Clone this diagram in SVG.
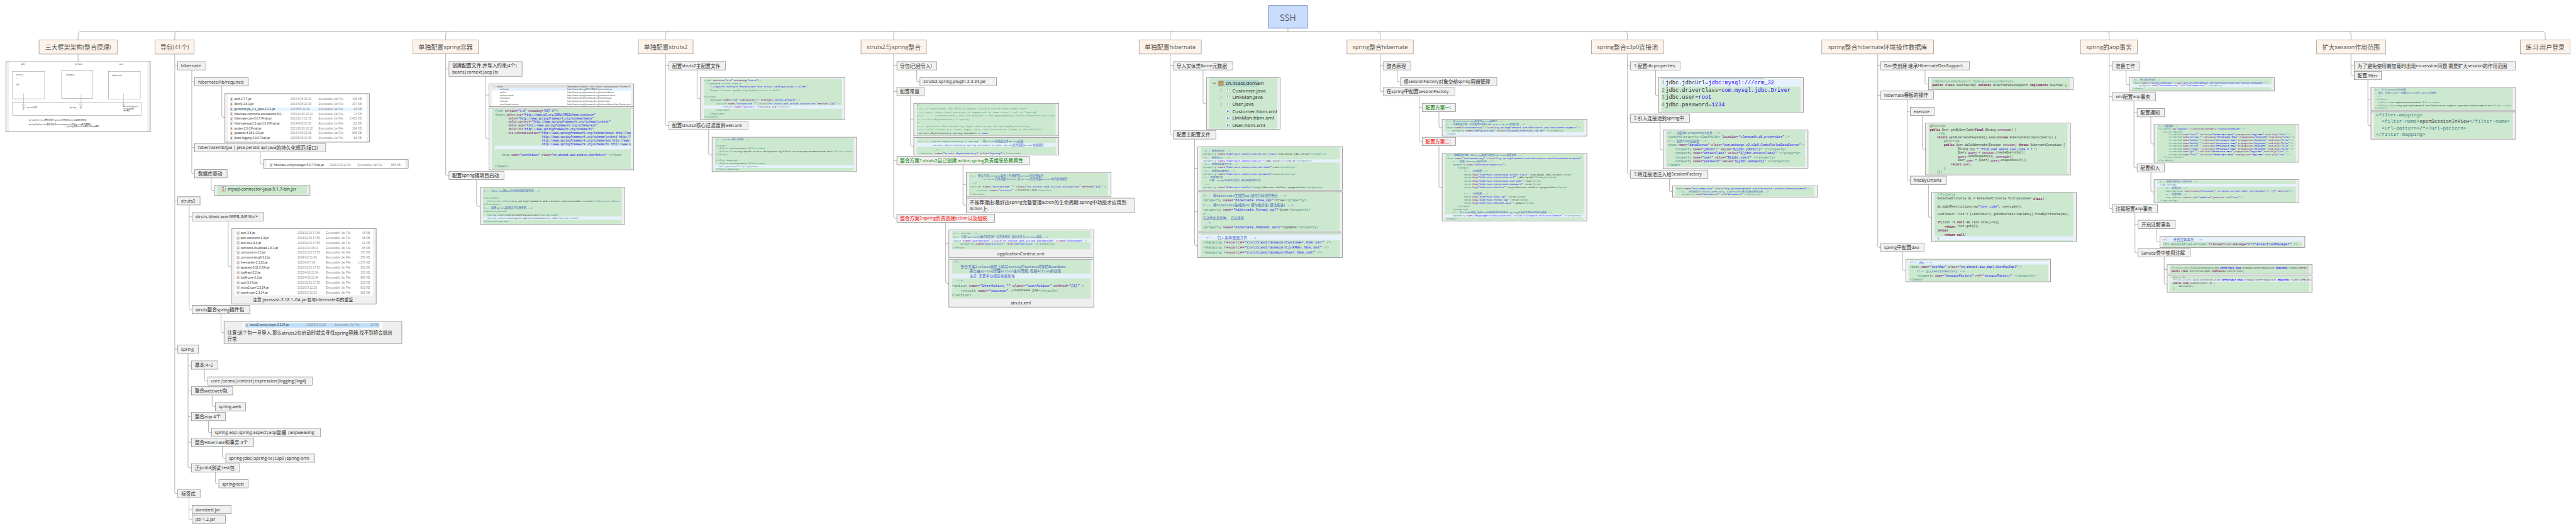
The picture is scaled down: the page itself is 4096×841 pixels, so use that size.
<svg xmlns="http://www.w3.org/2000/svg" xmlns:xlink="http://www.w3.org/1999/xlink" width="4096" height="841" viewBox="0 0 4096 841">
<style>
text{font-family:"Open Sans","Noto Sans CJK SC",sans-serif;dominant-baseline:central}
.n0{fill:#c9dcff;stroke:#3b5a8f;stroke-width:1.2}
.n1{fill:#fef3ea;stroke:#8c8780;stroke-width:1.2}
.n2{fill:#f0f0f0;stroke:#7f7f7f;stroke-width:1.2}
.im{fill:#efefef;stroke:#7f7f7f;stroke-width:1.3}
.gr{fill:#cce8cf}.hl{fill:#e8f2fe}.wh{fill:#fff}
.l0{font-size:25px;fill:#555;text-anchor:middle}
.l1{font-size:16.6px;fill:#555;text-anchor:middle}.l1 .c{font-size:18px}
.l2{font-size:12.6px;fill:#2b2b2b}.l2 .c{font-size:14px}
.red{fill:#f00}.grn{fill:#008000}
.cap{font-size:12.6px;fill:#2b2b2b;text-anchor:middle}
.code text{font-family:"Liberation Mono","Noto Sans CJK SC",monospace;fill:#333;white-space:pre}
.t{fill:#3f7f7f}.a{fill:#7f007f}.v{fill:#2a00ff;font-style:italic}.m{fill:#3f5fbf}.k{fill:#7f0055;font-weight:bold}.g{fill:#5f9f7f}
.fl text{font-family:"Liberation Sans","Noto Sans CJK SC",sans-serif;font-size:8.4px;fill:#8c8c8c}
.fl .f{fill:#333}.fl .r{text-anchor:end}
.dr text{font-family:"Liberation Mono","Noto Sans CJK SC",monospace;font-size:5.3px;fill:#333}
.dr rect{fill:none;stroke:#777;stroke-width:.8}.dr path{fill:none;stroke:#777;stroke-width:.7}
.cn path{fill:none;stroke:#8a8a8a;stroke-width:1.2}
.tr text{font-family:"Open Sans",sans-serif;font-size:14.4px;fill:#222}
</style>
<defs>
<symbol id="jar" viewBox="0 0 10 11"><rect x="1" y=".5" width="8" height="10" fill="#eef0f6" stroke="#9aa0b8" stroke-width=".7"/><rect x="3" y="5" width="4" height="4" fill="#d9822b"/><rect x="3" y="2" width="3" height="2" fill="#5577bb"/></symbol>
<symbol id="doc" viewBox="0 0 10 14"><path d="M.5.5H7L9.5 3V13.5H.5Z" fill="#f6f6f6" stroke="#dedede" stroke-width=".7"/></symbol>
<symbol id="jv" viewBox="0 0 10 12"><path d="M.5.5H7L9.5 3V11.5H.5Z" fill="#fff" stroke="#7a8a52" stroke-width=".8"/><rect x="4" y="3" width="2" height="6" fill="#3b5fa8"/></symbol>
<symbol id="xm" viewBox="0 0 10 12"><path d="M.5.5H7L9.5 3V11.5H.5Z" fill="#fff" stroke="#8fa0c8" stroke-width=".8"/><rect x="3" y="4" width="4" height="5" fill="#3b5fa8"/></symbol>
<clipPath id="c1"><rect x="1417" y="243" width="400.500" height="62"/></clipPath>
<clipPath id="c2"><rect x="1417" y="313" width="400.500" height="175"/></clipPath>
<clipPath id="c3"><rect x="2059.600" y="396" width="400" height="98"/></clipPath>
</defs>
<g transform="scale(.55194)">
<g id="connectors" class="cn">
<path d="M233 91.300H7324M3710.500 81.300V91.300"/>
<path d="M225 115.400V99.300Q225 91.300 233 91.300M503.500 115.400V99.300Q503.500 91.300 511.500 91.300M1284 115.400V99.300Q1284 91.300 1292 91.300M1917 115.400V99.300Q1917 91.300 1925 91.300M2574.600 115.400V99.300Q2574.600 91.300 2582.600 91.300M3371 115.400V99.300Q3371 91.300 3379 91.300M3976 115.400V99.300Q3976 91.300 3968 91.300M4688.300 115.400V99.300Q4688.300 91.300 4680.300 91.300M5409.600 115.400V99.300Q5409.600 91.300 5401.600 91.300M6076.300 115.400V99.300Q6076.300 91.300 6068.300 91.300M6772.900 115.400V99.300Q6772.900 91.300 6764.900 91.300M7332.400 115.400V99.300Q7332.400 91.300 7324.400 91.300"/>
<path d="M225 155.700V177.600"/>
<path d="M503.500 155.500V1417.800Q503.500 1421.800 507.500 1421.800H512.200M503.500 189.500H512M503.500 578.600H512M503.500 1005.600H512.200"/>
<path d="M552.500 201.500V496.500Q552.500 500.500 556.500 500.500H561M552.500 235.600H561M552.500 425.300H561"/>
<path d="M639 247.800V334Q639 338 643 338H647.400M750 437.300V468.600Q750 472.600 754 472.600H759.200M608.400 512.400V544.500Q608.400 548.500 612.400 548.500H617.600"/>
<path d="M545 590.500V887.600Q545 891.600 549 891.600H553.600M545 624.600H553.300"/>
<path d="M657.400 636.800V764Q657.400 768 661.400 768H666.500M636.700 903.800V953.500Q636.700 957.500 640.700 957.500H645.400"/>
<path d="M541.800 1017.800V1343.500Q541.800 1347.500 545.800 1347.500H551.500M541.800 1051.700H551.500M541.800 1125.800H551.500M541.800 1199.800H551.500M541.800 1273.900H551.500"/>
<path d="M589.300 1063.600V1093.500Q589.300 1097.500 593.300 1097.500H598.500M611.200 1137.700V1167.500Q611.200 1171.500 615.200 1171.500H620.400M600.500 1211.800V1241.700Q600.500 1245.700 604.500 1245.700H609.700M640.800 1285.800V1315.700Q640.800 1319.700 644.800 1319.700H650.500M620.900 1359.400V1389.800Q620.900 1393.800 624.900 1393.800H630.600"/>
<path d="M544.400 1433.500V1491.700Q544.400 1495.700 548.400 1495.700H553.600M544.400 1467.600H553.600"/>
<path d="M1284 155.300V501.300Q1284 505.300 1288 505.300H1293.400M1284 198.500H1293.400M1399.600 219.700V396Q1399.600 400 1403.600 400H1408.700M1399.600 273.800H1408.700M1373 517.300V590.400Q1373 594.400 1377 594.400H1383"/>
<path d="M1917 155.300V357.300Q1917 361.300 1921 361.300H1927M1917 189.500H1927M2008.200 201.500V279.700Q2008.200 283.700 2012.200 283.700H2018M2041.400 373.400V442Q2041.400 446 2045.400 446H2051.300"/>
<path d="M2574.600 155.400V624.600Q2574.600 628.600 2578.600 628.600H2583.800M2574.600 189.500H2583.800M2574.600 263.500H2583.800M2574.600 462.600H2583.800M2641 201.500V231.500Q2641 235.500 2645 235.500H2650.300M2623.400 275.600V418Q2623.400 422 2627.400 422H2632.500M2623.400 344H2632.500M2774.300 474.700V587Q2774.300 591 2778.300 591H2783.500M2774.300 531H2783.500M2724.400 640.400V812Q2724.400 816 2728.400 816H2733.600M2724.400 702.300H2733.600"/>
<path d="M3371 155.500V384.600Q3371 388.600 3375 388.600H3380.600M3371 189.500H3380.600M3465.800 201.500V294.800Q3465.800 298.800 3469.800 298.800H3475.500M3441.300 400.600V703.300Q3441.300 707.300 3445.300 707.300H3450.500M3441.300 485H3450.500M3441.300 609H3450.500"/>
<path d="M3976 155.500V259.600Q3976 263.600 3980 263.600H3985.700M3976 189.500H3985.700M4025 201.500V231.500Q4025 235.500 4029 235.500H4034.700M4088.300 275.600V403.300Q4088.300 407.300 4092.300 407.300H4097.400M4088.300 309.500H4097.400M4145.400 321.600V363.600Q4145.400 367.600 4149.400 367.600H4154.600M4145.400 419.400V536.400Q4145.400 540.400 4149.400 540.400H4154.600"/>
<path d="M4688.300 155.400V497.600Q4688.300 501.600 4692.300 501.600H4697.400M4688.300 189.600H4697.400M4688.300 340.300H4697.400M4769.400 201.800V271.400Q4769.400 275.400 4773.400 275.400H4778.600M4782.700 352.500V427.400Q4782.700 431.400 4786.700 431.400H4791.300M4809.200 513.600V547.400Q4809.200 551.400 4813.200 551.400H4818.400"/>
<path d="M5409.600 155.500V708.600Q5409.600 712.600 5413.600 712.600H5418.300M5409.600 189.500H5418.300M5409.600 274.300H5418.300M5545.800 201.500V238Q5545.800 242 5549.800 242H5555.500M5494.300 286.300V515.400Q5494.300 519.400 5498.300 519.400H5503.500M5494.300 320.800H5503.500M5538.200 332.800V426Q5538.200 430 5542.200 430H5547.300M5555.500 531.400V622.500Q5555.500 626.500 5559.500 626.500H5564.700M5481 724.700V775Q5481 779 5485 779H5490.700"/>
<path d="M6076.300 155.500V596.800Q6076.300 600.800 6080.300 600.800H6085.400M6076.300 189.700H6085.400M6076.300 278.600H6085.400M6125.100 201.700V240Q6125.100 244 6129.100 244H6134.700M6147.600 290.600V479.600Q6147.600 483.600 6151.600 483.600H6156.700M6147.600 324.600H6156.700M6196.400 336.700V410.600Q6196.400 414.600 6200.400 414.600H6205.500M6196.400 495.700V548.700Q6196.400 552.700 6200.400 552.700H6205.500M6150.500 612.800V724.400Q6150.500 728.400 6154.500 728.400H6159.600M6150.500 646.300H6159.600M6213.200 658.300V692.500Q6213.200 696.500 6217.200 696.500H6222.700M6234.700 740.400V814.900Q6234.700 818.900 6238.700 818.900H6243.300M6234.700 776.500H6243.300"/>
<path d="M6772.900 155.500V213.300Q6772.900 217.300 6776.900 217.300H6782.300M6772.900 189.500H6782.300M6821.600 229.700V357.700Q6821.600 361.700 6825.600 361.700H6830.400M6821.600 285.700H6830.400"/>
</g>

<g id="n-root"><rect class="n0" x="3654.300" y="16" width="112.400" height="65.300"/><text class="l0" x="3710.500" y="49">SSH</text></g>

<g id="n-arch"><rect class="n1" x="112.500" y="115.400" width="225" height="40.300"/><text class="l1" x="225" y="135.500"><tspan class="c">三大框架架构</tspan>(<tspan class="c">整合原理</tspan>)</text></g>
<g id="img-arch"><rect class="im" x="16.800" y="177.600" width="416.200" height="202"/><rect class="wh" x="25.300" y="178.400" width="399.400" height="200.400"/>
<g class="dr"><text x="61" y="186.600">WEB</text><text x="215" y="186.600">Service</text><text x="344" y="186.600">Dao</text>
<rect x="36" y="205.500" width="92.600" height="79.100"/><rect x="177.500" y="204" width="90.400" height="79.600"/><rect x="312.200" y="206" width="91.800" height="79.600"/><rect x="36" y="294.500" width="371" height="37.800"/>
<path d="M68 268.700V316M63.500 300L68 316L73 300M233.400 269V313.400M229 298L233.400 313.400L238 298M355.900 269V308.400M352 298L355.900 308.400L360 298"/>
<text x="46" y="217">struts2</text><text x="47" y="230">*</text><text x="46" y="243">jsp</text><text x="189" y="217.400">JavaBean</text><text x="323" y="218">Hibernate</text><text x="77.300" y="311">Action对象</text><text x="199.700" y="310">Spring</text><text x="355" y="307.500">SessionFactory</text><text x="355" y="314">session获得</text><text x="355" y="320.500">AOP事务</text>
<text x="82.600" y="347">spring与struts2整合就是将 Action对象交给spring容器负责创建.</text><text x="82.600" y="359">spring与Hibernate整合就是将sessionFactory交给spring来负责维护.</text><text x="186" y="365.700">|-spring负责session维护以及aop事务</text></g></g>

<g id="n-pkg"><rect class="n1" x="447" y="115.400" width="112.400" height="40.300"/><text class="l1" x="503.200" y="135.500"><tspan class="c">导包</tspan>(41<tspan class="c">个</tspan>)</text></g>
<g id="n-hib"><rect class="n2" x="512" y="177.600" width="81" height="23.900"/><text class="l2" x="521.500" y="189.500">hibernate</text></g>
<g id="n-hib-req"><rect class="n2" x="561" y="223.400" width="154.500" height="24.400"/><text class="l2" x="570.500" y="235.600">hibernate/lib/required</text></g>
<g id="img-hib-req" class="fl"><rect class="im" x="647.400" y="269.700" width="417.100" height="139.800"/><rect class="wh" x="655.800" y="272" width="400.200" height="135.500"/><rect x="660" y="309.500" width="384.600" height="9.900" fill="#e5f3ff"/>
<use href="#jar" x="662" y="281" width="10" height="10"/><text class="f" x="675" y="286">antlr-2.7.7.jar</text><text x="836.500" y="286">2014/4/28 20:30</text><text x="917.600" y="286">Executable Jar File</text><text class="r" x="1042" y="286">435 KB</text>
<use href="#jar" x="662" y="295" width="10" height="10"/><text class="f" x="675" y="300">dom4j-1.6.1.jar</text><text x="836.500" y="300">2014/4/28 20:28</text><text x="917.600" y="300">Executable Jar File</text><text class="r" x="1042" y="300">307 KB</text>
<use href="#jar" x="662" y="309" width="10" height="10"/><text class="f" x="675" y="314">geronimo-jta_1.1_spec-1.1.1.jar</text><text x="836.500" y="314">2015/5/5 11:26</text><text x="917.600" y="314">Executable Jar File</text><text class="r" x="1042" y="314">16 KB</text>
<use href="#jar" x="662" y="323" width="10" height="10"/><text class="f" x="675" y="328">hibernate-commons-annotations-5.0....</text><text x="836.500" y="328">2015/11/30 10:22</text><text x="917.600" y="328">Executable Jar File</text><text class="r" x="1042" y="328">74 KB</text>
<use href="#jar" x="662" y="337.300" width="10" height="10"/><text class="f" x="675" y="342.300">hibernate-core-5.0.7.Final.jar</text><text x="836.500" y="342.300">2016/1/13 12:35</text><text x="917.600" y="342.300">Executable Jar File</text><text class="r" x="1042" y="342.300">5,453 KB</text>
<use href="#jar" x="662" y="351.200" width="10" height="10"/><text class="f" x="675" y="356.200">hibernate-jpa-2.1-api-1.0.0.Final.jar</text><text x="836.500" y="356.200">2014/4/28 20:30</text><text x="917.600" y="356.200">Executable Jar File</text><text class="r" x="1042" y="356.200">111 KB</text>
<use href="#jar" x="662" y="365.100" width="10" height="10"/><text class="f" x="675" y="370.100">jandex-2.0.0.Final.jar</text><text x="836.500" y="370.100">2015/11/30 10:22</text><text x="917.600" y="370.100">Executable Jar File</text><text class="r" x="1042" y="370.100">184 KB</text>
<use href="#jar" x="662" y="379" width="10" height="10"/><text class="f" x="675" y="384">javassist-3.18.1-GA.jar</text><text x="836.500" y="384">2014/4/28 20:28</text><text x="917.600" y="384">Executable Jar File</text><text class="r" x="1042" y="384">698 KB</text>
<use href="#jar" x="662" y="393" width="10" height="10"/><text class="f" x="675" y="398">jboss-logging-3.3.0.Final.jar</text><text x="836.500" y="398">2015/5/28 12:35</text><text x="917.600" y="398">Executable Jar File</text><text class="r" x="1042" y="398">66 KB</text></g>
<g id="n-hib-jpa"><rect class="n2" x="561" y="413.400" width="377.200" height="23.900"/><text class="l2" x="570.500" y="425.300">hibernate/lib/jpa | java persist api java<tspan class="c">的持久化规范</tspan>(<tspan class="c">接口</tspan>)</text></g>
<g id="img-hib-jpa" class="fl"><rect class="im" x="759.200" y="459.700" width="416.800" height="24.900"/><rect class="wh" x="767.600" y="461.500" width="399.400" height="22"/><use href="#jar" x="776" y="470" width="10" height="10"/><text class="f" x="789" y="475">hibernate-entitymanager-5.0.7.Final.jar</text><text x="949.700" y="475">2016/1/13 12:39</text><text x="1030" y="475">Executable Jar File</text><text class="r" x="1154" y="475">585 KB</text></g>
<g id="n-hib-db"><rect class="n2" x="561" y="488.600" width="93.300" height="23.800"/><text class="l2" x="570.500" y="500.500"><tspan class="c">数据库驱动</tspan></text></g>
<g id="img-hib-db"><rect class="im" x="617.600" y="534.300" width="275.400" height="28.400"/><rect class="gr" x="626" y="535.800" width="258.800" height="25.500"/><use href="#jar" x="636" y="536" width="15" height="16"/><text x="656.600" y="544.300" font-size="12.500" fill="#2b2b2b">mysql-connector-java-5.1.7-bin.jar</text></g>
<g id="n-st"><rect class="n2" x="512" y="566.700" width="64.300" height="23.800"/><text class="l2" x="521.500" y="578.600">struts2</text></g>
<g id="n-st-blank"><rect class="n2" x="553.300" y="612.400" width="206.700" height="24.400"/><text class="l2" x="562.800" y="624.600">struts-blank.war/WEB-INF/lib/*</text></g>
<g id="img-st-blank" class="fl"><rect class="im" x="666.500" y="658.200" width="417.200" height="217.300"/><rect class="wh" x="675.500" y="660" width="399.500" height="191"/>
<use href="#jar" x="681" y="666" width="10" height="10"/><text class="f" x="693.400" y="671">asm-3.3.jar</text><text x="857" y="671">2013/11/23 17:55</text><text x="939" y="671">Executable Jar File</text><text class="r" x="1066" y="671">43 KB</text>
<use href="#jar" x="681" y="680.600" width="10" height="10"/><text class="f" x="693.400" y="685.600">asm-commons-3.3.jar</text><text x="857" y="685.600">2013/11/23 17:55</text><text x="939" y="685.600">Executable Jar File</text><text class="r" x="1066" y="685.600">38 KB</text>
<use href="#jar" x="681" y="694.500" width="10" height="10"/><text class="f" x="693.400" y="699.500">asm-tree-3.3.jar</text><text x="857" y="699.500">2013/11/23 17:55</text><text x="939" y="699.500">Executable Jar File</text><text class="r" x="1066" y="699.500">21 KB</text>
<use href="#jar" x="681" y="708.900" width="10" height="10"/><text class="f" x="693.400" y="713.900">commons-fileupload-1.3.1.jar</text><text x="857" y="713.900">2014/2/19 16:21</text><text x="939" y="713.900">Executable Jar File</text><text class="r" x="1066" y="713.900">68 KB</text>
<use href="#jar" x="681" y="722.800" width="10" height="10"/><text class="f" x="693.400" y="727.800">commons-io-2.2.jar</text><text x="857" y="727.800">2013/11/23 17:55</text><text x="939" y="727.800">Executable Jar File</text><text class="r" x="1066" y="727.800">170 KB</text>
<use href="#jar" x="681" y="737.300" width="10" height="10"/><text class="f" x="693.400" y="742.300">commons-lang3-3.2.jar</text><text x="857" y="742.300">2014/1/2 21:45</text><text x="939" y="742.300">Executable Jar File</text><text class="r" x="1066" y="742.300">376 KB</text>
<use href="#jar" x="681" y="751.700" width="10" height="10"/><text class="f" x="693.400" y="756.700">freemarker-2.3.22.jar</text><text x="857" y="756.700">2015/4/3 7:09</text><text x="939" y="756.700">Executable Jar File</text><text class="r" x="1066" y="756.700">1,271 KB</text>
<use href="#jar" x="681" y="766" width="10" height="10"/><text class="f" x="693.400" y="771">javassist-3.11.0.GA.jar</text><text x="857" y="771">2013/11/23 17:55</text><text x="939" y="771">Executable Jar File</text><text class="r" x="1066" y="771">600 KB</text>
<use href="#jar" x="681" y="780.300" width="10" height="10"/><text class="f" x="693.400" y="785.300">log4j-api-2.2.jar</text><text x="857" y="785.300">2015/4/19 12:04</text><text x="939" y="785.300">Executable Jar File</text><text class="r" x="1066" y="785.300">131 KB</text>
<use href="#jar" x="681" y="794.500" width="10" height="10"/><text class="f" x="693.400" y="799.500">log4j-core-2.2.jar</text><text x="857" y="799.500">2015/4/19 12:04</text><text x="939" y="799.500">Executable Jar File</text><text class="r" x="1066" y="799.500">808 KB</text>
<use href="#jar" x="681" y="809" width="10" height="10"/><text class="f" x="693.400" y="814">ognl-3.0.6.jar</text><text x="857" y="814">2013/11/23 17:55</text><text x="939" y="814">Executable Jar File</text><text class="r" x="1066" y="814">223 KB</text>
<use href="#jar" x="681" y="823.200" width="10" height="10"/><text class="f" x="693.400" y="828.200">struts2-core-2.3.24.jar</text><text x="857" y="828.200">2015/5/3 12:25</text><text x="939" y="828.200">Executable Jar File</text><text class="r" x="1066" y="828.200">813 KB</text>
<use href="#jar" x="681" y="837.800" width="10" height="10"/><text class="f" x="693.400" y="842.800">xwork-core-2.3.24.jar</text><text x="857" y="842.800">2015/5/3 12:23</text><text x="939" y="842.800">Executable Jar File</text><text class="r" x="1066" y="842.800">661 KB</text>
</g><text class="cap" x="872.500" y="863" style="font-size:12.600px">注意:javassist-3.18.1-GA.jar包与hibernate中的重复</text>
<g id="n-st-plugin"><rect class="n2" x="553.600" y="879.400" width="165.800" height="24.400"/><text class="l2" x="563.100" y="891.600">struts<tspan class="c">整合</tspan>spring<tspan class="c">插件包</tspan></text></g>
<g id="img-st-plugin" class="fl"><rect class="im" x="645.400" y="925.700" width="512.200" height="63.800"/><rect class="wh" x="701" y="928" width="399.500" height="18.600"/><rect x="704.600" y="930" width="389.400" height="13.700" fill="#bfe0fb"/><use href="#jar" x="707" y="931.500" width="10" height="10"/><text class="f" x="720" y="936.500">struts2-spring-plugin-2.3.24.jar</text><text x="883" y="936.500">2015/5/3 12:26</text><text x="964.300" y="936.500">Executable Jar File</text><text class="r" x="1090" y="936.500">22 KB</text></g>
<text x="655" y="959.300" font-size="13.600" fill="#2b2b2b">注意:这个包一旦导入,那么struts2在启动时就会寻找spring容器.找不到将会抛出</text><text x="655" y="977" font-size="13.600" fill="#2b2b2b">异常</text>
<g id="n-sp"><rect class="n2" x="512.200" y="993.400" width="59.200" height="24.400"/><text class="l2" x="521.700" y="1005.600">spring</text></g>
<g id="n-sp-a"><rect class="n2" x="551.500" y="1039.700" width="76.100" height="23.900"/><text class="l2" x="561" y="1051.700"><tspan class="c">基本</tspan>:4+2</text></g>
<g id="n-sp-a1"><rect class="n2" x="598.500" y="1085.500" width="301" height="23.900"/><text class="l2" x="608" y="1097.500">core|beans|context|expression|logging|log4j</text></g>
<g id="n-sp-b"><rect class="n2" x="551.500" y="1113.800" width="118.900" height="23.900"/><text class="l2" x="561" y="1125.800"><tspan class="c">整合</tspan>web:web<tspan class="c">包</tspan></text></g>
<g id="n-sp-b1"><rect class="n2" x="620.400" y="1159.600" width="87.300" height="23.900"/><text class="l2" x="629.900" y="1171.500">spring-web</text></g>
<g id="n-sp-c"><rect class="n2" x="551.500" y="1187.900" width="98" height="23.900"/><text class="l2" x="561" y="1199.800"><tspan class="c">整合</tspan>aop:4<tspan class="c">个</tspan></text></g>
<g id="n-sp-c1"><rect class="n2" x="609.700" y="1233.700" width="313.800" height="23.900"/><text class="l2" x="619.200" y="1245.700">spring-aop|spring-aspect|aop<tspan class="c">联盟</tspan> |aopweaving</text></g>
<g id="n-sp-d"><rect class="n2" x="551.500" y="1262" width="179.100" height="23.800"/><text class="l2" x="561" y="1273.900"><tspan class="c">整合</tspan>Hibernate<tspan class="c">和事务</tspan>:4<tspan class="c">个</tspan></text></g>
<g id="n-sp-d1"><rect class="n2" x="650.500" y="1307.800" width="256.100" height="23.800"/><text class="l2" x="660" y="1319.700">spring-jdbc|spring-tx|c3p0|spring-orm</text></g>
<g id="n-sp-e"><rect class="n2" x="551.500" y="1335.500" width="138.800" height="23.900"/><text class="l2" x="561" y="1347.500"><tspan class="c">正</tspan>junit4<tspan class="c">测试</tspan>:test<tspan class="c">包</tspan></text></g>
<g id="n-sp-e1"><rect class="n2" x="630.600" y="1381.800" width="84.700" height="23.900"/><text class="l2" x="640.100" y="1393.800">spring-test</text></g>
<g id="n-tag"><rect class="n2" x="512.200" y="1409.600" width="64.300" height="23.900"/><text class="l2" x="521.700" y="1421.600"><tspan class="c">标签库</tspan></text></g>
<g id="n-tag-a"><rect class="n2" x="553.600" y="1455.400" width="111.700" height="24.400"/><text class="l2" x="563.100" y="1467.600">standard.jar</text><use href="#doc" x="644" y="1460" width="11" height="14"/></g>
<g id="n-tag-b"><rect class="n2" x="553.600" y="1483.700" width="95.900" height="23.900"/><text class="l2" x="563.100" y="1495.700">jstl-1.2.jar</text><use href="#doc" x="628" y="1488" width="11" height="14"/></g>

<g id="n-spring"><rect class="n1" x="1189.800" y="115.300" width="188.200" height="40"/><text class="l1" x="1284" y="135.300"><tspan class="c">单独配置</tspan>spring<tspan class="c">容器</tspan></text></g>
<g id="n-spring-a"><rect class="n2" x="1293.400" y="177.400" width="210.600" height="42.300"/><text class="l2" x="1302.500" y="189.300"><tspan class="c">创建配置文件,并导入约束</tspan>(4<tspan class="c">个</tspan>)</text><text class="l2" x="1302.500" y="207.400">beans|context|aop|tx</text></g>
<g id="img-spring-xsd"><rect class="im" x="1408.700" y="241.400" width="417.100" height="66"/><rect class="wh" x="1417" y="243.800" width="400.500" height="61.200"/><rect x="1417" y="245" width="400.500" height="8" fill="#dcdcdc"/><rect x="1417" y="253.300" width="400.500" height="8" fill="#e3f1fd"/>
<g clip-path="url(#c1)" font-size="6" fill="#333"><text x="1432" y="249" style="font-size:6px">beans</text><text x="1634" y="249" style="font-size:6px">(description?, (import | alias | bean | name:pacesuri="##other")*, beans)*</text>
<text x="1440" y="257.200" style="font-size:6px">xmlns:xsi</text><text x="1634" y="257.200" style="font-size:6px">http://www.w3.org/2001/XMLSchema-instance</text>
<text x="1440" y="265.900" style="font-size:6px">xmlns</text><text x="1634" y="265.900" style="font-size:6px">http://www.springframework.org/schema/beans</text>
<text x="1440" y="274.200" style="font-size:6px">xmlns:context</text><text x="1634" y="274.200" style="font-size:6px">http://www.springframework.org/schema/context</text>
<text x="1440" y="282.500" style="font-size:6px">xmlns:aop</text><text x="1634" y="282.500" style="font-size:6px">http://www.springframework.org/schema/aop</text>
<text x="1440" y="291.200" style="font-size:6px">xmlns:tx</text><text x="1634" y="291.200" style="font-size:6px">http://www.springframework.org/schema/tx</text>
<text x="1440" y="299.500" style="font-size:6px">xsi:schemaLocation</text><text x="1634" y="299.500" style="font-size:6px">http://www.springframework.org/schema/beans http://www.springframework</text></g></g>
<g id="img-spring-xml" class="code" font-size="8.070"><rect class="im" x="1408.700" y="311.400" width="417.100" height="177.800"/><rect class="gr" x="1417" y="313" width="400.500" height="174.700"/><rect class="hl" x="1425.300" y="419.700" width="392.200" height="10.300"/>
<g clip-path="url(#c2)"><text x="1425.300" y="318.500"><tspan class="t">&lt;?xml </tspan><tspan class="a">version=</tspan><tspan class="v">"1.0" </tspan><tspan class="a">encoding=</tspan><tspan class="v">"UTF-8"</tspan><tspan class="t">?&gt;</tspan></text>
<text x="1425.300" y="329.200"><tspan class="t">&lt;beans </tspan><tspan class="a">xmlns:xsi=</tspan><tspan class="v">"http://www.w3.org/2001/XMLSchema-instance"</tspan></text>
<text x="1464.300" y="339.800"><tspan class="a">xmlns=</tspan><tspan class="v">"http://www.springframework.org/schema/beans"</tspan></text>
<text x="1464.300" y="350.500"><tspan class="a">xmlns:context=</tspan><tspan class="v">"http://www.springframework.org/schema/context"</tspan></text>
<text x="1464.300" y="361.200"><tspan class="a">xmlns:aop=</tspan><tspan class="v">"http://www.springframework.org/schema/aop"</tspan></text>
<text x="1464.300" y="371.900"><tspan class="a">xmlns:tx=</tspan><tspan class="v">"http://www.springframework.org/schema/tx"</tspan></text>
<text x="1464.300" y="382.500"><tspan class="a">xsi:schemaLocation=</tspan><tspan class="v">"http://www.springframework.org/schema/beans http://www.springframework.org</tspan></text>
<text x="1561.300" y="393.200"><tspan class="v">http://www.springframework.org/schema/context http://www.springframework.org</tspan></text>
<text x="1561.300" y="403.900"><tspan class="v">http://www.springframework.org/schema/aop http://www.springframework.org</tspan></text>
<text x="1561.300" y="414.500"><tspan class="v">http://www.springframework.org/schema/tx http://www.springframework.org</tspan></text>
<text x="1444.400" y="446.600"><tspan class="t">&lt;bean </tspan><tspan class="a">name=</tspan><tspan class="v">"userAction" </tspan><tspan class="a">class=</tspan><tspan class="v">"cn.itcast.web.action.UserAction" </tspan><tspan class="t">&gt;&lt;/bean&gt;</tspan></text>
<text x="1425.300" y="479"><tspan class="t">&lt;/beans&gt;</tspan></text></g></g>
<g id="n-spring-b"><rect class="n2" x="1293.400" y="493.200" width="158.400" height="24.100"/><text class="l2" x="1302.500" y="505.300"><tspan class="c">配置</tspan>spring<tspan class="c">随项目启动</tspan></text></g>
<g id="img-spring-web" class="code" font-size="7.470"><rect class="im" x="1383" y="539" width="416.300" height="107.200"/><rect class="gr" x="1391.300" y="540.600" width="399.700" height="104.400"/><rect class="hl" x="1391.300" y="623.600" width="399.700" height="9.500"/>
<text x="1393" y="550.500"><tspan class="m">&lt;!-- 让spring随web启动而创建的监听器 --&gt;</tspan></text>
<text x="1393" y="569.900"><tspan class="t">&lt;listener&gt;</tspan></text>
<text x="1403" y="579.400"><tspan class="t">&lt;listener-class&gt;</tspan>org.springframework.web.context.ContextLoaderListener<tspan class="t">&lt;/listener-class&gt;</tspan></text>
<text x="1393" y="589.300"><tspan class="t">&lt;/listener&gt;</tspan></text>
<text x="1393" y="599.100"><tspan class="m">&lt;!-- 配置spring配置文件位置参数 --&gt;</tspan></text>
<text x="1393" y="609"><tspan class="t">&lt;context-param&gt;</tspan></text>
<text x="1403" y="618.900"><tspan class="t">&lt;param-name&gt;</tspan>contextConfigLocation<tspan class="t">&lt;/param-name&gt;</tspan></text>
<text x="1403" y="628.400"><tspan class="t">&lt;param-value&gt;</tspan>classpath:applicationContext.xml<tspan class="t">&lt;/param-value&gt;</tspan></text>
<text x="1393" y="638.300"><tspan class="t">&lt;/context-param&gt;</tspan></text></g>

<g id="n-struts"><rect class="n1" x="1839" y="115.300" width="157.600" height="40"/><text class="l1" x="1917.800" y="135.300"><tspan class="c">单独配置</tspan>struts2</text></g>
<g id="n-struts-a"><rect class="n2" x="1927" y="177.400" width="163.300" height="24.100"/><text class="l2" x="1936.300" y="189.500"><tspan class="c">配置</tspan>struts2<tspan class="c">主配置文件</tspan></text></g>
<g id="img-struts-main" class="code" font-size="7.200"><rect class="im" x="2018" y="223.200" width="416.400" height="121.800"/><rect class="gr" x="2028" y="226.800" width="398" height="117"/><rect class="hl" x="2028" y="303.500" width="398" height="9.500"/>
<text x="2028" y="231.100"><tspan class="t">&lt;?xml </tspan><tspan class="a">version=</tspan><tspan class="v">"1.0" </tspan><tspan class="a">encoding=</tspan><tspan class="v">"UTF-8"</tspan><tspan class="t">?&gt;</tspan></text>
<text x="2036" y="240.600"><tspan class="t">&lt;!DOCTYPE struts PUBLIC</tspan></text>
<text x="2045" y="250.100"><tspan class="v">"-//Apache Software Foundation//DTD Struts Configuration 2.3//EN"</tspan></text>
<text x="2045" y="260"><tspan class="t">"http://struts.apache.org/dtds/struts-2.3.dtd"&gt;</tspan></text>
<text x="2028" y="279"><tspan class="t">&lt;struts&gt;</tspan></text>
<text x="2045" y="288.900"><tspan class="t">&lt;package </tspan><tspan class="a">name=</tspan><tspan class="v">"crm" </tspan><tspan class="a">namespace=</tspan><tspan class="v">"/" </tspan><tspan class="a">extends=</tspan><tspan class="v">"struts-default" </tspan><tspan class="t">&gt;</tspan></text>
<text x="2063" y="298.300"><tspan class="t">&lt;action </tspan><tspan class="a">name=</tspan><tspan class="v">"UserAction_*" </tspan><tspan class="a">class=</tspan><tspan class="v">"cn.itcast.web.action.UserAction" </tspan><tspan class="a">method=</tspan><tspan class="v">"{1}" </tspan><tspan class="t">&gt;</tspan></text>
<text x="2081" y="308.200"><tspan class="t">&lt;result </tspan><tspan class="a">name=</tspan><tspan class="v">"success" </tspan><tspan class="t">&gt;</tspan>/success.jsp<tspan class="t">&lt;/result&gt;</tspan></text>
<text x="2063" y="317.700"><tspan class="t">&lt;/action&gt;</tspan></text>
<text x="2045" y="327.600"><tspan class="t">&lt;/package&gt;</tspan></text>
<text x="2028" y="337.100"><tspan class="t">&lt;/struts&gt;</tspan></text></g>
<g id="n-struts-b"><rect class="n2" x="1927" y="349.300" width="228" height="24.100"/><text class="l2" x="1936.300" y="361.300"><tspan class="c">配置</tspan>struts2<tspan class="c">核心过滤器到</tspan>web.xml</text></g>
<g id="img-struts-web" class="code" font-size="6.600"><rect class="im" x="2051.300" y="395.200" width="416.200" height="99.200"/><rect class="gr" x="2059.600" y="396.800" width="399.600" height="96.400"/><rect class="hl" x="2059.600" y="475.400" width="399.600" height="8.300"/>
<g clip-path="url(#c3)"><text x="2062" y="402.700"><tspan class="m">&lt;!-- struts2核心过滤器 --&gt;</tspan></text>
<text x="2062" y="420"><tspan class="t">&lt;filter&gt;</tspan></text>
<text x="2070" y="428.400"><tspan class="t">&lt;filter-name&gt;</tspan>struts2<tspan class="t">&lt;/filter-name&gt;</tspan></text>
<text x="2070" y="437"><tspan class="t">&lt;filter-class&gt;</tspan>org.apache.struts2.dispatcher.ng.filter.StrutsPrepareAndExecuteFilter<tspan class="t">&lt;/filter-class&gt;</tspan></text>
<text x="2062" y="445.400"><tspan class="t">&lt;/filter&gt;</tspan></text>
<text x="2062" y="462.400"><tspan class="t">&lt;filter-mapping&gt;</tspan></text>
<text x="2070" y="471"><tspan class="t">&lt;filter-name&gt;</tspan>struts2<tspan class="t">&lt;/filter-name&gt;</tspan></text>
<text x="2070" y="479.800"><tspan class="t">&lt;url-pattern&gt;</tspan>/*<tspan class="t">&lt;/url-pattern&gt;</tspan></text>
<text x="2062" y="488"><tspan class="t">&lt;/filter-mapping&gt;</tspan></text></g></g>

<g id="n-s2s"><rect class="n1" x="2480.400" y="115.400" width="188.300" height="40"/><text class="l1" x="2574.600" y="135.400">struts2<tspan class="c">与</tspan>spring<tspan class="c">整合</tspan></text></g>
<g id="n-s2s-a"><rect class="n2" x="2583.800" y="177.400" width="114.800" height="24.100"/><text class="l2" x="2592.800" y="189.500"><tspan class="c">导包</tspan>(<tspan class="c">已经导入</tspan>)</text></g>
<g id="n-s2s-a1"><rect class="n2" x="2650.300" y="223.500" width="220.500" height="24.100"/><text class="l2" x="2660" y="235.500">struts2-spring-plugin-2.3.24.jar</text><use href="#doc" x="2849" y="228" width="11" height="14"/></g>
<g id="n-s2s-b"><rect class="n2" x="2583.800" y="251.400" width="78.600" height="24.200"/><text class="l2" x="2592.800" y="263.500"><tspan class="c">配置常量</tspan></text></g>
<g id="img-s2s-const" class="code" font-size="7.700"><rect class="im" x="2632.500" y="297.500" width="417.400" height="93.800"/><rect class="gr" x="2641" y="299" width="400.300" height="90.700"/>
<g class="num"><text x="2641.700" y="301.400"><tspan class="g">0</tspan></text><text x="2641.700" y="311.200"><tspan class="g">1</tspan></text><text x="2641.700" y="321.700"><tspan class="g">2</tspan></text><text x="2641.700" y="331.500"><tspan class="g">3</tspan></text><text x="2641.700" y="342"><tspan class="g">4</tspan></text><text x="2641.700" y="351.800"><tspan class="g">5</tspan></text><text x="2641.700" y="362.200"><tspan class="g">6</tspan></text><text x="2641.700" y="372.100"><tspan class="g">7</tspan></text><text x="2641.700" y="382.500"><tspan class="g">8</tspan></text></g>
<text x="2648" y="311.200"><tspan class="g">### if specified, the default object factory can be overridden here</tspan></text>
<text x="2648" y="321.700"><tspan class="g">### Note: short-hand notation is supported in some cases, such as "spring"</tspan></text>
<text x="2648" y="331.500"><tspan class="g">###       Alternatively, you can provide a com.opensymphony.xwork2.ObjectFactory subc</tspan></text>
<text x="2648" y="342"><tspan class="g"># struts.objectFactory = spring</tspan></text>
<text x="2648" y="362.200"><tspan class="g">### specifies the autoWiring logic when using the SpringObjectFactory.</tspan></text>
<text x="2648" y="372.100"><tspan class="g">### valid values are: name, type, auto, and constructor (name is the default)</tspan></text>
<text x="2648" y="382.500">struts.objectFactory.spring.autoWire = <tspan class="v" style="font-style:normal">name</tspan></text></g>
<g id="img-s2s-const2" class="code" font-size="7.700"><rect class="im" x="2632.500" y="395.700" width="417.400" height="51"/><rect class="gr" x="2641" y="397.400" width="400.300" height="47.600"/><rect class="hl" x="2641" y="411.600" width="400.300" height="11"/>
<text x="2647" y="406"><tspan class="m">&lt;!-- #  struts.objectFactory = spring   将action的创建交给spring容器</tspan></text>
<text x="2688" y="417"><tspan class="m">struts.objectFactory.spring.autoWire = name spring负责装配Action依赖属性</tspan></text>
<text x="2688" y="428.600"><tspan class="m">--&gt;</tspan></text>
<text x="2647" y="439.600"><tspan class="t">&lt;constant </tspan><tspan class="a">name=</tspan><tspan class="v">"struts.objectFactory" </tspan><tspan class="a">value=</tspan><tspan class="v">"spring"</tspan><tspan class="t">&gt;&lt;/constant&gt;</tspan></text></g>
<g id="n-s2s-c"><rect class="n2" x="2583.800" y="450.600" width="381.700" height="24.100"/><text class="l2 grn" x="2592.800" y="462.600" style="fill:#008000"><tspan class="c">整合方案</tspan>1:struts2<tspan class="c">自己创建</tspan> action,spring<tspan class="c">负责组装依赖属性</tspan></text></g>
<g id="img-s2s-c1" class="code" font-size="7.980"><rect class="im" x="2783.500" y="496.600" width="417.400" height="70.300"/><rect class="gr" x="2792" y="498.300" width="400" height="65.300"/>
<text x="2793.300" y="504.900"><tspan class="m">&lt;!-- 整合方案1:class属性上仍然配置action的完整类名</tspan></text>
<text x="2832.300" y="515.300"><tspan class="m">struts2仍然创建action,由spring负责组装Action中的依赖属性</tspan></text>
<text x="2799" y="526.300"><tspan class="m">--&gt;</tspan></text>
<text x="2793.300" y="536.700"><tspan class="t">&lt;action </tspan><tspan class="a">name=</tspan><tspan class="v">"UserAction_*" </tspan><tspan class="a">class=</tspan><tspan class="v">"cn.itcast.web.action.UserAction" </tspan><tspan class="a">method=</tspan><tspan class="v">"{1}" </tspan><tspan class="t">&gt;</tspan></text>
<text x="2813.400" y="547.100"><tspan class="t">&lt;result </tspan><tspan class="a">name=</tspan><tspan class="v">"success" </tspan><tspan class="t">&gt;</tspan>/success.jsp<tspan class="t">&lt;/result&gt;</tspan></text>
<text x="2793.300" y="558"><tspan class="t">&lt;/action&gt;</tspan></text></g>
<g id="n-s2s-c2"><rect class="n2" x="2783.500" y="570.700" width="485.100" height="41.700"/><text class="l2" x="2793.300" y="582.800"><tspan class="c">不推荐理由</tspan>:<tspan class="c">最好由</tspan>spring<tspan class="c">完整管理</tspan>action<tspan class="c">的生命周期</tspan>.spring<tspan class="c">中功能才应用到</tspan></text><text class="l2" x="2793.300" y="600.900">Action<tspan class="c">上</tspan>.</text></g>
<g id="n-s2s-d"><rect class="n2" x="2583.800" y="616.800" width="281.800" height="23.600"/><text class="l2" x="2592.800" y="628.600" style="fill:#f00"><tspan class="c">整合方案</tspan>2:spring<tspan class="c">负责创建</tspan>action<tspan class="c">以及组装</tspan>.</text></g>
<g id="img-s2s-d1" class="code" font-size="7.750"><rect class="im" x="2733.600" y="662.300" width="417.400" height="80.100"/><rect class="gr" x="2742.200" y="664.500" width="400.100" height="53.700"/><rect class="hl" x="2742.200" y="687" width="400.100" height="9.900"/>
<text x="2745.600" y="671"><tspan class="m">&lt;!-- action --&gt;</tspan></text>
<text x="2745.600" y="681.500"><tspan class="m">&lt;!-- 注意:Action对象作用范围一定是多例的.这样才符合struts2架构 --&gt;</tspan></text>
<text x="2745.600" y="692"><tspan class="t">&lt;bean </tspan><tspan class="a">name=</tspan><tspan class="v">"userAction" </tspan><tspan class="a">class=</tspan><tspan class="v">"cn.itcast.web.action.UserAction" </tspan><tspan class="a">scope=</tspan><tspan class="v">"prototype" </tspan><tspan class="t">&gt;</tspan></text>
<text x="2764.600" y="701.800"><tspan class="t">&lt;property </tspan><tspan class="a">name=</tspan><tspan class="v">"userService" </tspan><tspan class="a">ref=</tspan><tspan class="v">"userService" </tspan><tspan class="t">&gt;&lt;/property&gt;</tspan></text>
<text x="2745.600" y="712.200"><tspan class="t">&lt;/bean&gt;</tspan></text></g>
<text class="cap" x="2940.800" y="730.300">applicationContext.xml</text>
<g id="img-s2s-d2" class="code" font-size="10.400"><rect class="im" x="2733.600" y="746.800" width="417.400" height="137.700"/><rect class="gr" x="2742.200" y="748.400" width="400.100" height="111.400"/><rect class="hl" x="2742.200" y="788.500" width="400.100" height="13.100"/>
<text x="2748.500" y="753.900"><tspan class="m">&lt;!--</tspan></text>
<text x="2767.500" y="767.600"><tspan class="m">整合方案2:class属性上填写spring中action对象的BeanName</tspan></text>
<text x="2792.700" y="781.300"><tspan class="m">完全由spring管理action生命周期,包括Action的创建</tspan></text>
<text x="2792.700" y="795"><tspan class="m">注意:需要手动组装依赖属性</tspan></text>
<text x="2755.400" y="808.800"><tspan class="m">--&gt;</tspan></text>
<text x="2742.200" y="822.500"><tspan class="t">&lt;action </tspan><tspan class="a">name=</tspan><tspan class="v">"UserAction_*" </tspan><tspan class="a">class=</tspan><tspan class="v">"userAction" </tspan><tspan class="a">method=</tspan><tspan class="v">"{1}" </tspan><tspan class="t">&gt;</tspan></text>
<text x="2767.500" y="836.200"><tspan class="t">&lt;result </tspan><tspan class="a">name=</tspan><tspan class="v">"success" </tspan><tspan class="t">&gt;</tspan>/success.jsp<tspan class="t">&lt;/result&gt;</tspan></text>
<text x="2742.200" y="849.900"><tspan class="t">&lt;/action&gt;</tspan></text></g>
<text class="cap" x="2940.800" y="872.400">struts.xml</text>

<g id="n-hb"><rect class="n1" x="3281.600" y="115.400" width="179.100" height="40.100"/><text class="l1" x="3371" y="135.400"><tspan class="c">单独配置</tspan>hibernate</text></g>
<g id="n-hb-a"><rect class="n2" x="3380.600" y="177.400" width="170.900" height="24.100"/><text class="l2" x="3389.300" y="189.500"><tspan class="c">导入实体类</tspan>&amp;orm<tspan class="c">元数据</tspan></text></g>
<g id="img-hb-tree" class="tr"><rect class="im" x="3475.500" y="223.400" width="212.300" height="149.100"/><rect class="gr" x="3484.200" y="225" width="194.800" height="146"/><rect x="3508.200" y="230" width="117.800" height="20.200" fill="#b4d9cf"/>
<path d="M3494 237.500L3498.500 242.500L3503 237.500" fill="none" stroke="#333" stroke-width="1.500"/><rect x="3511" y="234" width="13" height="12" fill="#c89a5a" stroke="#9a6a2a"/>
<text x="3531.100" y="239.900">cn.itcast.domain</text>
<path d="M3515.500 255L3519.500 260L3515.500 265M3515.500 275L3519.500 279.600L3515.500 284.500M3515.500 295L3519.500 299.700L3515.500 304.500" fill="none" stroke="#888" stroke-width="1.200"/>
<use href="#jv" x="3532" y="254" width="10" height="12"/><text x="3550" y="260">Customer.java</text>
<use href="#jv" x="3532" y="274" width="10" height="12"/><text x="3550" y="279.600">LinkMan.java</text>
<use href="#jv" x="3532" y="294" width="10" height="12"/><text x="3550" y="299.700">User.java</text>
<use href="#xm" x="3532" y="314" width="10" height="12"/><text x="3550" y="319.800">Customer.hbm.xml</text>
<use href="#xm" x="3532" y="334" width="10" height="12"/><text x="3550" y="339.500">LinkMan.hbm.xml</text>
<use href="#xm" x="3532" y="354" width="10" height="12"/><text x="3550" y="360">User.hbm.xml</text></g>
<g id="n-hb-b"><rect class="n2" x="3380.600" y="376.500" width="122" height="24.100"/><text class="l2" x="3389.300" y="388.600"><tspan class="c">配置主配置文件</tspan></text></g>
<g id="img-hb-1" class="code" font-size="7.180"><rect class="im" x="3450.500" y="422.500" width="416.800" height="125.900"/><rect class="gr" x="3459.200" y="423.800" width="400" height="123.200"/><rect class="hl" x="3459.200" y="459.100" width="400" height="8.900"/>
<text x="3469.400" y="435"><tspan class="m">&lt;!-- 数据库驱动 --&gt;</tspan></text>
<text x="3465.300" y="444.400"><tspan class="t">&lt;property </tspan><tspan class="a">name=</tspan><tspan class="v">"hibernate.connection.driver_class"</tspan><tspan class="t">&gt;</tspan>com.mysql.jdbc.Driver<tspan class="t">&lt;/property&gt;</tspan></text>
<text x="3469.400" y="454.200"><tspan class="m">&lt;!-- 数据库url --&gt;</tspan></text>
<text x="3465.300" y="463.600"><tspan class="t">&lt;property </tspan><tspan class="a">name=</tspan><tspan class="v">"hibernate.connection.url"</tspan><tspan class="t">&gt;</tspan>jdbc:mysql:///crm_32<tspan class="t">&lt;/property&gt;</tspan></text>
<text x="3469.400" y="473"><tspan class="m">&lt;!-- 数据库连接用户名 --&gt;</tspan></text>
<text x="3465.300" y="482.300"><tspan class="t">&lt;property </tspan><tspan class="a">name=</tspan><tspan class="v">"hibernate.connection.username"</tspan><tspan class="t">&gt;</tspan>root<tspan class="t">&lt;/property&gt;</tspan></text>
<text x="3469.400" y="492"><tspan class="m">&lt;!-- 数据库连接密码 --&gt;</tspan></text>
<text x="3465.300" y="501.500"><tspan class="t">&lt;property </tspan><tspan class="a">name=</tspan><tspan class="v">"hibernate.connection.password"</tspan><tspan class="t">&gt;</tspan>1234<tspan class="t">&lt;/property&gt;</tspan></text>
<text x="3465.300" y="510.900"><tspan class="m">&lt;!-- 数据库方言</tspan></text>
<text x="3483.200" y="520.300"><tspan class="m">注意: MYSQL在选择方言时,请选择最短的方言.</tspan></text>
<text x="3469.400" y="530.100"><tspan class="m">--&gt;</tspan></text>
<text x="3465.300" y="539.500"><tspan class="t">&lt;property </tspan><tspan class="a">name=</tspan><tspan class="v">"hibernate.dialect"</tspan><tspan class="t">&gt;</tspan>org.hibernate.dialect.MySQLDialect<tspan class="t">&lt;/property&gt;</tspan></text></g>
<g id="img-hb-2" class="code" font-size="9.770"><rect class="im" x="3450.500" y="552.400" width="416.800" height="113.900"/><rect class="gr" x="3459.200" y="554.200" width="400" height="110.700"/>
<text x="3465.300" y="565.800"><tspan class="m">&lt;!-- 将hibernate生成的sql语句打印到控制台 --&gt;</tspan></text>
<text x="3465.300" y="578.800"><tspan class="t">&lt;property </tspan><tspan class="a">name=</tspan><tspan class="v">"hibernate.show_sql"</tspan><tspan class="t">&gt;</tspan>true<tspan class="t">&lt;/property&gt;</tspan></text>
<text x="3465.300" y="591.700"><tspan class="m">&lt;!-- 将hibernate生成的sql语句格式化(语法缩进) --&gt;</tspan></text>
<text x="3465.300" y="604.600"><tspan class="t">&lt;property </tspan><tspan class="a">name=</tspan><tspan class="v">"hibernate.format_sql"</tspan><tspan class="t">&gt;</tspan>true<tspan class="t">&lt;/property&gt;</tspan></text>
<text x="3465.300" y="617.100"><tspan class="m">&lt;!--</tspan></text>
<text x="3465.300" y="630"><tspan class="m">自动导出表结构. 自动建表</tspan></text>
<text x="3471.400" y="643"><tspan class="m">--&gt;</tspan></text>
<text x="3465.300" y="656"><tspan class="t">&lt;property </tspan><tspan class="a">name=</tspan><tspan class="v">"hibernate.hbm2ddl.auto"</tspan><tspan class="t">&gt;</tspan>update<tspan class="t">&lt;/property&gt;</tspan></text></g>
<g id="img-hb-3" class="code" font-size="10.950"><rect class="im" x="3450.500" y="670.300" width="416.800" height="71.400"/><rect class="gr" x="3459.200" y="672" width="400" height="68.400"/><rect class="hl" x="3459.200" y="677" width="400" height="13.800"/>
<text x="3473.500" y="684.100"><tspan class="m">&lt;!-- 引入实体配置文件 --&gt;</tspan></text>
<text x="3467.300" y="698.400"><tspan class="t">&lt;mapping </tspan><tspan class="a">resource=</tspan><tspan class="v">"cn/itcast/domain/Customer.hbm.xml" </tspan><tspan class="t">/&gt;</tspan></text>
<text x="3467.300" y="712.700"><tspan class="t">&lt;mapping </tspan><tspan class="a">resource=</tspan><tspan class="v">"cn/itcast/domain/LinkMan.hbm.xml" </tspan><tspan class="t">/&gt;</tspan></text>
<text x="3467.300" y="727.400"><tspan class="t">&lt;mapping </tspan><tspan class="a">resource=</tspan><tspan class="v">"cn/itcast/domain/User.hbm.xml" </tspan><tspan class="t">/&gt;</tspan></text></g>

<g id="n-sh"><rect class="n1" x="3880.600" y="115.400" width="190.800" height="40.100"/><text class="l1" x="3976" y="135.400">spring<tspan class="c">整合</tspan>hibernate</text></g>
<g id="n-sh-a"><rect class="n2" x="3985.700" y="177.400" width="78.600" height="24.100"/><text class="l2" x="3994.400" y="189.500"><tspan class="c">整合原理</tspan></text></g>
<g id="n-sh-a1"><rect class="n2" x="4034.700" y="223.400" width="277.500" height="24.100"/><text class="l2" x="4043.700" y="235.500"><tspan class="c">将</tspan>sessionFactory<tspan class="c">对象交给</tspan>spring<tspan class="c">容器管理</tspan></text></g>
<g id="n-sh-b"><rect class="n2" x="3985.700" y="251.500" width="205.600" height="24.100"/><text class="l2" x="3994.400" y="263.600"><tspan class="c">在</tspan>spring<tspan class="c">中配置</tspan>sessionFactory</text></g>
<g id="n-sh-b1"><rect class="n2" x="4097.400" y="297.500" width="96" height="24.100"/><text class="l2" x="4106.400" y="309.500" style="fill:#008000"><tspan class="c">配置方案一</tspan>:</text></g>
<g id="img-sh-1" class="code" font-size="6.690"><rect class="im" x="4154.600" y="343.500" width="416.800" height="48.200"/><rect class="gr" x="4162.800" y="344.800" width="400" height="36.600"/><rect class="hl" x="4162.800" y="381.400" width="400" height="9"/>
<text x="4166.300" y="350.200"><tspan class="m">&lt;!-- 将SessionFactory配置到spring容器中 --&gt;</tspan></text>
<text x="4166.300" y="358.700"><tspan class="m">&lt;!-- 加载配置方案1:仍然使用外部的hibernate.cfg.xml配置信息 --&gt;</tspan></text>
<text x="4166.300" y="367.600"><tspan class="t">&lt;bean </tspan><tspan class="a">name=</tspan><tspan class="v">"sessionFactory" </tspan><tspan class="a">class=</tspan><tspan class="v">"org.springframework.orm.hibernate5.LocalSessionFactoryBean" </tspan><tspan class="t">&gt;</tspan></text>
<text x="4182.700" y="376.500"><tspan class="t">&lt;property </tspan><tspan class="a">name=</tspan><tspan class="v">"configLocation" </tspan><tspan class="a">value=</tspan><tspan class="v">"classpath:hibernate.cfg.xml" </tspan><tspan class="t">&gt;&lt;/property&gt;</tspan></text>
<text x="4166.300" y="385.400"><tspan class="t">&lt;/bean&gt;</tspan></text></g>
<g id="n-sh-b2"><rect class="n2" x="4097.400" y="395.300" width="96" height="24.100"/><text class="l2" x="4106.400" y="407.300" style="fill:#f00"><tspan class="c">配置方案二</tspan>:</text></g>
<g id="img-sh-2" class="code" font-size="6.900"><rect class="im" x="4154.600" y="441.700" width="416.800" height="194.600"/><rect class="gr" x="4162.800" y="443" width="400" height="192"/><rect class="hl" x="4162.800" y="617.100" width="400" height="8.900"/>
<text x="4167.300" y="448"><tspan class="m">&lt;!-- 加载配置方案2:在spring配置中放置hibernate配置信息 --&gt;</tspan></text>
<text x="4167.300" y="456.900"><tspan class="t">&lt;bean </tspan><tspan class="a">name=</tspan><tspan class="v">"sessionFactory" </tspan><tspan class="a">class=</tspan><tspan class="v">"org.springframework.orm.hibernate5.LocalSessionFactoryBean"</tspan></text>
<text x="4184.200" y="466.300"><tspan class="m">&lt;!-- 配置hibernate基本信息 --&gt;</tspan></text>
<text x="4184.200" y="475.200"><tspan class="t">&lt;property </tspan><tspan class="a">name=</tspan><tspan class="v">"hibernateProperties"</tspan><tspan class="t">&gt;</tspan></text>
<text x="4201" y="484.600"><tspan class="t">&lt;props&gt;</tspan></text>
<text x="4217.300" y="493.500"><tspan class="m">&lt;!--  必选配置 --&gt;</tspan></text>
<text x="4217.300" y="502.900"><tspan class="t">&lt;prop </tspan><tspan class="a">key=</tspan><tspan class="v">"hibernate.connection.driver_class" </tspan><tspan class="t">&gt;</tspan>com.mysql.jdbc.Driver<tspan class="t">&lt;/prop&gt;</tspan></text>
<text x="4217.300" y="511.800"><tspan class="t">&lt;prop </tspan><tspan class="a">key=</tspan><tspan class="v">"hibernate.connection.url" </tspan><tspan class="t">&gt;</tspan>jdbc:mysql:///crm_32<tspan class="t">&lt;/prop&gt;</tspan></text>
<text x="4217.300" y="521.200"><tspan class="t">&lt;prop </tspan><tspan class="a">key=</tspan><tspan class="v">"hibernate.connection.username" </tspan><tspan class="t">&gt;</tspan>root<tspan class="t">&lt;/prop&gt;</tspan></text>
<text x="4217.300" y="530.100"><tspan class="t">&lt;prop </tspan><tspan class="a">key=</tspan><tspan class="v">"hibernate.connection.password" </tspan><tspan class="t">&gt;</tspan>1234<tspan class="t">&lt;/prop&gt;</tspan></text>
<text x="4217.300" y="539.500"><tspan class="t">&lt;prop </tspan><tspan class="a">key=</tspan><tspan class="v">"hibernate.dialect" </tspan><tspan class="t">&gt;</tspan>org.hibernate.dialect.MySQLDialect<tspan class="t">&lt;/prop&gt;</tspan></text>
<text x="4217.300" y="557.800"><tspan class="m">&lt;!--  可选配置 --&gt;</tspan></text>
<text x="4217.300" y="566.700"><tspan class="t">&lt;prop </tspan><tspan class="a">key=</tspan><tspan class="v">"hibernate.show_sql" </tspan><tspan class="t">&gt;</tspan>true<tspan class="t">&lt;/prop&gt;</tspan></text>
<text x="4217.300" y="576.100"><tspan class="t">&lt;prop </tspan><tspan class="a">key=</tspan><tspan class="v">"hibernate.format_sql" </tspan><tspan class="t">&gt;</tspan>true<tspan class="t">&lt;/prop&gt;</tspan></text>
<text x="4217.300" y="585.500"><tspan class="t">&lt;prop </tspan><tspan class="a">key=</tspan><tspan class="v">"hibernate.hbm2ddl.auto" </tspan><tspan class="t">&gt;</tspan>update<tspan class="t">&lt;/prop&gt;</tspan></text>
<text x="4201" y="594.400"><tspan class="t">&lt;/props&gt;</tspan></text>
<text x="4184.200" y="603.800"><tspan class="t">&lt;/property&gt;</tspan></text>
<text x="4184.200" y="612.700"><tspan class="m">&lt;!-- 引入orm元数据,指定orm元数据所在的包路径,spring会自动读取包中的所有配置 --&gt;</tspan></text>
<text x="4184.200" y="621.600"><tspan class="t">&lt;property </tspan><tspan class="a">name=</tspan><tspan class="v">"mappingDirectoryLocations" </tspan><tspan class="a">value=</tspan><tspan class="v">"classpath:cn/itcast/domain" </tspan><tspan class="t">&gt;&lt;/property&gt;</tspan></text>
<text x="4167.300" y="631"><tspan class="t">&lt;/bean&gt;</tspan></text></g>

<g id="n-c3"><rect class="n1" x="4584.700" y="115.400" width="207.600" height="40"/><text class="l1" x="4688.500" y="135.400">spring<tspan class="c">整合</tspan>c3p0<tspan class="c">连接池</tspan></text></g>
<g id="n-c3-a"><rect class="n2" x="4697.400" y="177.500" width="142.900" height="24.300"/><text class="l2" x="4707" y="189.600">1.<tspan class="c">配置</tspan>db.properties</text></g>
<g id="img-c3-1" class="code" font-size="15.800"><rect class="im" x="4778.600" y="223.600" width="416.800" height="100.700"/><rect class="wh" x="4787.200" y="225" width="400" height="4"/><rect x="4787.200" y="225" width="296" height="2" fill="#b4b8cc"/><rect class="gr" x="4787.200" y="228.600" width="400" height="94.600"/><rect class="hl" x="4787.200" y="229" width="400" height="20.300"/>
<text x="4786.200" y="239.300"><tspan class="g">1</tspan></text><text x="4798" y="239.300">jdbc.jdbcUrl=<tspan fill="#2a00ff">jdbc:mysql:///crm_32</tspan></text>
<text x="4786.200" y="260"><tspan class="g">2</tspan></text><text x="4798" y="260">jdbc.driverClass=<tspan fill="#2a00ff">com.mysql.jdbc.Driver</tspan></text>
<text x="4786.200" y="281"><tspan class="g">3</tspan></text><text x="4798" y="281">jdbc.user=<tspan fill="#2a00ff">root</tspan></text>
<text x="4786.200" y="301.800"><tspan class="g">4</tspan></text><text x="4798" y="301.800">jdbc.password=<tspan fill="#2a00ff">1234</tspan></text></g>
<g id="n-c3-b"><rect class="n2" x="4697.400" y="328.200" width="169.900" height="24.300"/><text class="l2" x="4707" y="340.300">2.<tspan class="c">引入连接池到</tspan>spring<tspan class="c">中</tspan></text></g>
<g id="img-c3-2" class="code" font-size="8.770"><rect class="im" x="4791.300" y="374.600" width="417.400" height="110.800"/><rect class="gr" x="4800" y="376" width="400" height="104.700"/>
<text x="4804" y="382.500"><tspan class="m">&lt;!-- 读取db.properties文件 --&gt;</tspan></text>
<text x="4804" y="394"><tspan class="t">&lt;context:property-placeholder </tspan><tspan class="a">location=</tspan><tspan class="v">"classpath:db.properties" </tspan><tspan class="t">/&gt;</tspan></text>
<text x="4804" y="405.700"><tspan class="m">&lt;!-- 配置c3p0连接池 --&gt;</tspan></text>
<text x="4804" y="417.100"><tspan class="t">&lt;bean </tspan><tspan class="a">name=</tspan><tspan class="v">"dataSource" </tspan><tspan class="a">class=</tspan><tspan class="v">"com.mchange.v2.c3p0.ComboPooledDataSource" </tspan><tspan class="t">&gt;</tspan></text>
<text x="4825" y="429"><tspan class="t">&lt;property </tspan><tspan class="a">name=</tspan><tspan class="v">"jdbcUrl" </tspan><tspan class="a">value=</tspan><tspan class="v">"${jdbc.jdbcUrl}" </tspan><tspan class="t">&gt;&lt;/property&gt;</tspan></text>
<text x="4825" y="440.400"><tspan class="t">&lt;property </tspan><tspan class="a">name=</tspan><tspan class="v">"driverClass" </tspan><tspan class="a">value=</tspan><tspan class="v">"${jdbc.driverClass}" </tspan><tspan class="t">&gt;&lt;/property&gt;</tspan></text>
<text x="4825" y="452.100"><tspan class="t">&lt;property </tspan><tspan class="a">name=</tspan><tspan class="v">"user" </tspan><tspan class="a">value=</tspan><tspan class="v">"${jdbc.user}" </tspan><tspan class="t">&gt;&lt;/property&gt;</tspan></text>
<text x="4825" y="463.600"><tspan class="t">&lt;property </tspan><tspan class="a">name=</tspan><tspan class="v">"password" </tspan><tspan class="a">value=</tspan><tspan class="v">"${jdbc.password}" </tspan><tspan class="t">&gt;&lt;/property&gt;</tspan></text>
<text x="4804" y="475"><tspan class="t">&lt;/bean&gt;</tspan></text></g>
<g id="n-c3-c"><rect class="n2" x="4697.400" y="489.600" width="223" height="24"/><text class="l2" x="4707" y="501.600">3.<tspan class="c">将连接池注入给</tspan>SessionFactory</text></g>
<g id="img-c3-3" class="code" font-size="6.700"><rect class="im" x="4818.400" y="535.700" width="417.300" height="31.800"/><rect class="gr" x="4827" y="537" width="400" height="29.300"/>
<text x="4828" y="543.600"><tspan class="t">&lt;bean </tspan><tspan class="a">name=</tspan><tspan class="v">"sessionFactory" </tspan><tspan class="a">class=</tspan><tspan class="v">"org.springframework.orm.hibernate5.LocalSessionFactoryBean" </tspan><tspan class="t">&gt;</tspan></text>
<text x="4844.400" y="552.100"><tspan class="m">&lt;!-- 将连接池注入到sessionFactory, hibernate会通过连接池获得连接 --&gt;</tspan></text>
<text x="4844.400" y="560.700"><tspan class="t">&lt;property </tspan><tspan class="a">name=</tspan><tspan class="v">"dataSource" </tspan><tspan class="a">ref=</tspan><tspan class="v">"dataSource" </tspan><tspan class="t">&gt;&lt;/property&gt;</tspan></text></g>

<g id="n-db"><rect class="n1" x="5248.400" y="115.400" width="321.900" height="40.100"/><text class="l1" x="5409.400" y="135.400">spring<tspan class="c">整合</tspan>hibernate<tspan class="c">环境操作数据库</tspan></text></g>
<g id="n-db-a"><rect class="n2" x="5418.300" y="177.400" width="255.100" height="24.100"/><text class="l2" x="5428" y="189.500">Dao<tspan class="c">类创建</tspan>:<tspan class="c">继承</tspan>HibernateDaoSupport</text></g>
<g id="img-db-a" class="code" font-size="8.850"><rect class="im" x="5555.500" y="223.400" width="416.900" height="35.300"/><rect class="gr" x="5564" y="225" width="400" height="32.300"/>
<text x="5566.700" y="233.700"><tspan class="g">//HibernateDaoSupport 为dao注入sessionFactory</tspan></text>
<text x="5566.700" y="245.300"><tspan class="k">public class </tspan>UserDaoImpl <tspan class="k">extends </tspan>HibernateDaoSupport <tspan class="k">implements </tspan>UserDao {</text></g>
<g id="n-db-b"><rect class="n2" x="5418.300" y="262.200" width="152" height="24.100"/><text class="l2" x="5428" y="274.300">hibernate<tspan class="c">模板的操作</tspan></text></g>
<g id="n-db-b1"><rect class="n2" x="5503.500" y="308.700" width="68.800" height="24.100"/><text class="l2" x="5513" y="320.800">execute</text></g>
<g id="img-db-b1" class="code" font-size="8.330"><rect class="im" x="5547.300" y="354.600" width="417.400" height="149.200"/><rect class="gr" x="5556" y="356.400" width="400" height="146"/>
<text x="5560" y="362.700" fill="#777" style="fill:#777">@Override</text>
<text x="5560" y="373.800"><tspan class="k">public </tspan>User getByUserCode(<tspan class="k">final </tspan>String <tspan class="a">usercode</tspan>) {</text>
<text x="5580.500" y="384.600"><tspan class="g">//HQL</tspan></text>
<text x="5580.500" y="395.700"><tspan class="k">return </tspan>getHibernateTemplate().execute(<tspan class="k">new </tspan>HibernateCallback&lt;User&gt;() {</text>
<text x="5600.400" y="406.900" style="fill:#777">@Override</text>
<text x="5600.400" y="417.600"><tspan class="k">public </tspan>User doInHibernate(Session <tspan class="a">session</tspan>) <tspan class="k">throws </tspan>HibernateException {</text>
<text x="5640.200" y="428.800">String <tspan class="a">hql</tspan> = <tspan fill="#2a00ff">"from User where user_code = ? "</tspan>;</text>
<text x="5640.200" y="439.900">Query <tspan class="a">query</tspan> = <tspan class="a">session</tspan>.createQuery(hql);</text>
<text x="5640.200" y="450.600"><tspan class="a">query</tspan>.setParameter(0, <tspan class="a">usercode</tspan>);</text>
<text x="5640.200" y="461.800">User <tspan class="a">user</tspan> = (User) <tspan class="a">query</tspan>.uniqueResult();</text>
<text x="5620.300" y="473"><tspan class="k">return </tspan><tspan class="a">user</tspan>;</text>
<text x="5600.400" y="484">}</text>
<text x="5580.500" y="494.800">});</text></g>
<g id="n-db-b2"><rect class="n2" x="5503.500" y="507.300" width="104.100" height="24.100"/><text class="l2" x="5513" y="519.400">findByCriteria</text></g>
<g id="img-db-b2" class="code" font-size="8.720"><rect class="im" x="5564.700" y="553.800" width="416.800" height="142.800"/><rect class="gr" x="5572.900" y="555" width="400" height="140"/><rect class="hl" x="5572.900" y="681" width="400" height="11.200"/>
<text x="5581" y="560.400"><tspan class="g">//Criteria</tspan></text>
<text x="5581" y="572">DetachedCriteria dc = DetachedCriteria.forClass(User.<tspan class="k">class</tspan>);</text>
<text x="5581" y="594.800">dc.add(Restrictions.eq(<tspan fill="#2a00ff">"user_code"</tspan>, usercode));</text>
<text x="5581" y="617.600">List&lt;User&gt; list = (List&lt;User&gt;) getHibernateTemplate().findByCriteria(dc);</text>
<text x="5581" y="640.400"><tspan class="k">if</tspan>(list != <tspan class="k">null</tspan> &amp;&amp; list.size()&gt;0){</text>
<text x="5602" y="652"><tspan class="k">return </tspan>list.get(0);</text>
<text x="5581" y="663.600">}<tspan class="k">else</tspan>{</text>
<text x="5602" y="675.200"><tspan class="k">return null</tspan>;</text>
<text x="5581" y="687.200">}</text></g>
<g id="n-db-c"><rect class="n2" x="5418.300" y="700.600" width="125" height="24.100"/><text class="l2" x="5428" y="712.700">spring<tspan class="c">中配置</tspan>dao</text></g>
<g id="img-db-c" class="code" font-size="8.800"><rect class="im" x="5490.700" y="746.600" width="416.900" height="65"/><rect class="gr" x="5499.300" y="748" width="400" height="62.200"/><rect class="hl" x="5499.300" y="751" width="400" height="11"/>
<text x="5502" y="756.400"><tspan class="m">&lt;!-- dao --&gt;</tspan></text>
<text x="5502" y="768.800"><tspan class="t">&lt;bean </tspan><tspan class="a">name=</tspan><tspan class="v">"userDao" </tspan><tspan class="a">class=</tspan><tspan class="v">"cn.itcast.dao.impl.UserDaoImpl" </tspan><tspan class="t">&gt;</tspan></text>
<text x="5522" y="781"><tspan class="m">&lt;!-- 注入sessionFactory --&gt;</tspan></text>
<text x="5522" y="793"><tspan class="t">&lt;property </tspan><tspan class="a">name=</tspan><tspan class="v">"sessionFactory" </tspan><tspan class="a">ref=</tspan><tspan class="v">"sessionFactory" </tspan><tspan class="t">&gt;&lt;/property&gt;</tspan></text>
<text x="5502" y="805"><tspan class="t">&lt;/bean&gt;</tspan></text></g>

<g id="n-tx"><rect class="n1" x="5994.500" y="115.400" width="163.200" height="40.100"/><text class="l1" x="6076" y="135.400">spring<tspan class="c">的</tspan>aop<tspan class="c">事务</tspan></text></g>
<g id="n-tx-a"><rect class="n2" x="6085.400" y="177.700" width="79" height="24"/><text class="l2" x="6094.800" y="189.700"><tspan class="c">准备工作</tspan></text></g>
<g id="img-tx-a" class="code" font-size="6.200"><rect class="im" x="6134.700" y="223.700" width="417.200" height="38.700"/><rect class="gr" x="6142.800" y="225.300" width="400.500" height="35.500"/><rect class="hl" x="6142.800" y="243" width="400.500" height="8.400"/>
<text x="6147" y="231"><tspan class="m">&lt;!-- 核心事务管理器 --&gt;</tspan></text>
<text x="6147" y="239.400"><tspan class="t">&lt;bean </tspan><tspan class="a">name=</tspan><tspan class="v">"transactionManager" </tspan><tspan class="a">class=</tspan><tspan class="v">"org.springframework.orm.hibernate5.HibernateTransactionManager" </tspan><tspan class="t">&gt;</tspan></text>
<text x="6162" y="247.200"><tspan class="t">&lt;property </tspan><tspan class="a">name=</tspan><tspan class="v">"sessionFactory" </tspan><tspan class="a">ref=</tspan><tspan class="v">"sessionFactory" </tspan><tspan class="t">&gt;&lt;/property&gt;</tspan></text>
<text x="6147" y="255.600"><tspan class="t">&lt;/bean&gt;</tspan></text></g>
<g id="n-tx-b"><rect class="n2" x="6085.400" y="266.600" width="124.400" height="24"/><text class="l2" x="6094.800" y="278.600">xml<tspan class="c">配置</tspan>aop<tspan class="c">事务</tspan></text></g>
<g id="n-tx-b1"><rect class="n2" x="6156.700" y="312.600" width="78.900" height="24.100"/><text class="l2" x="6166" y="324.600"><tspan class="c">配置通知</tspan></text></g>
<g id="img-tx-b1" class="code" font-size="6.180"><rect class="im" x="6205.500" y="358.600" width="417.200" height="108.800"/><rect class="gr" x="6214.100" y="360" width="400" height="106"/>
<text x="6217.500" y="363.300"><tspan class="m">&lt;!-- 配置通知 --&gt;</tspan></text>
<text x="6217.500" y="371.200"><tspan class="t">&lt;tx:advice </tspan><tspan class="a">id=</tspan><tspan class="v">"txAdvice" </tspan><tspan class="a">transaction-manager=</tspan><tspan class="v">"transactionManager" </tspan><tspan class="t">&gt;</tspan></text>
<text x="6232.800" y="379.600"><tspan class="t">&lt;tx:attributes&gt;</tspan></text>
<text x="6247.600" y="387.900"><tspan class="t">&lt;tx:method </tspan><tspan class="a">name=</tspan><tspan class="v">"save*" </tspan><tspan class="a">isolation=</tspan><tspan class="v">"REPEATABLE_READ" </tspan><tspan class="a">propagation=</tspan><tspan class="v">"REQUIRED" </tspan><tspan class="a">read-only=</tspan><tspan class="v">"false" </tspan><tspan class="t">/&gt;</tspan></text>
<text x="6247.600" y="395.800"><tspan class="t">&lt;tx:method </tspan><tspan class="a">name=</tspan><tspan class="v">"persist*" </tspan><tspan class="a">isolation=</tspan><tspan class="v">"REPEATABLE_READ" </tspan><tspan class="a">propagation=</tspan><tspan class="v">"REQUIRED" </tspan><tspan class="a">read-only=</tspan><tspan class="v">"false" </tspan><tspan class="t">/&gt;</tspan></text>
<text x="6247.600" y="404.100"><tspan class="t">&lt;tx:method </tspan><tspan class="a">name=</tspan><tspan class="v">"update*" </tspan><tspan class="a">isolation=</tspan><tspan class="v">"REPEATABLE_READ" </tspan><tspan class="a">propagation=</tspan><tspan class="v">"REQUIRED" </tspan><tspan class="a">read-only=</tspan><tspan class="v">"false" </tspan><tspan class="t">/&gt;</tspan></text>
<text x="6247.600" y="412.500"><tspan class="t">&lt;tx:method </tspan><tspan class="a">name=</tspan><tspan class="v">"modify*" </tspan><tspan class="a">isolation=</tspan><tspan class="v">"REPEATABLE_READ" </tspan><tspan class="a">propagation=</tspan><tspan class="v">"REQUIRED" </tspan><tspan class="a">read-only=</tspan><tspan class="v">"false" </tspan><tspan class="t">/&gt;</tspan></text>
<text x="6247.600" y="420.400"><tspan class="t">&lt;tx:method </tspan><tspan class="a">name=</tspan><tspan class="v">"delete*" </tspan><tspan class="a">isolation=</tspan><tspan class="v">"REPEATABLE_READ" </tspan><tspan class="a">propagation=</tspan><tspan class="v">"REQUIRED" </tspan><tspan class="a">read-only=</tspan><tspan class="v">"false" </tspan><tspan class="t">/&gt;</tspan></text>
<text x="6247.600" y="428.700"><tspan class="t">&lt;tx:method </tspan><tspan class="a">name=</tspan><tspan class="v">"remove*" </tspan><tspan class="a">isolation=</tspan><tspan class="v">"REPEATABLE_READ" </tspan><tspan class="a">propagation=</tspan><tspan class="v">"REQUIRED" </tspan><tspan class="a">read-only=</tspan><tspan class="v">"false" </tspan><tspan class="t">/&gt;</tspan></text>
<text x="6247.600" y="436.600"><tspan class="t">&lt;tx:method </tspan><tspan class="a">name=</tspan><tspan class="v">"get*" </tspan><tspan class="a">isolation=</tspan><tspan class="v">"REPEATABLE_READ" </tspan><tspan class="a">propagation=</tspan><tspan class="v">"REQUIRED" </tspan><tspan class="a">read-only=</tspan><tspan class="v">"true" </tspan><tspan class="t">/&gt;</tspan></text>
<text x="6247.600" y="444.900"><tspan class="t">&lt;tx:method </tspan><tspan class="a">name=</tspan><tspan class="v">"find*" </tspan><tspan class="a">isolation=</tspan><tspan class="v">"REPEATABLE_READ" </tspan><tspan class="a">propagation=</tspan><tspan class="v">"REQUIRED" </tspan><tspan class="a">read-only=</tspan><tspan class="v">"true" </tspan><tspan class="t">/&gt;</tspan></text>
<text x="6232.800" y="453.300"><tspan class="t">&lt;/tx:attributes&gt;</tspan></text>
<text x="6217.500" y="461.200"><tspan class="t">&lt;/tx:advice&gt;</tspan></text></g>
<g id="n-tx-b2"><rect class="n2" x="6156.700" y="471.600" width="78.900" height="24.100"/><text class="l2" x="6166" y="483.600"><tspan class="c">配置织入</tspan></text></g>
<g id="img-tx-b2" class="code" font-size="6.600"><rect class="im" x="6205.500" y="517.600" width="417.200" height="67"/><rect class="gr" x="6214.100" y="519" width="400" height="64.200"/><rect class="hl" x="6214.100" y="529.700" width="400" height="7.800"/>
<text x="6222.300" y="524.400"><tspan class="m">&lt;!-- 配置将通知织入目标对象 --&gt;</tspan></text>
<text x="6222.300" y="533.300"><tspan class="t">&lt;aop:config&gt;</tspan></text>
<text x="6238" y="542.200"><tspan class="m">&lt;!-- 配置切点 --&gt;</tspan></text>
<text x="6238" y="551.100"><tspan class="t">&lt;aop:pointcut </tspan><tspan class="a">expression=</tspan><tspan class="v">"execution(* cn.itcast.service.impl.*ServiceImpl.*(..))" </tspan><tspan class="a">id=</tspan><tspan class="v">"txPc"</tspan><tspan class="t">/&gt;</tspan></text>
<text x="6238" y="559.500"><tspan class="m">&lt;!-- 配置切面 --&gt;</tspan></text>
<text x="6238" y="568.400"><tspan class="t">&lt;aop:advisor </tspan><tspan class="a">advice-ref=</tspan><tspan class="v">"txAdvice" </tspan><tspan class="a">pointcut-ref=</tspan><tspan class="v">"txPc" </tspan><tspan class="t">/&gt;</tspan></text>
<text x="6222.300" y="577.300"><tspan class="t">&lt;/aop:config&gt;</tspan></text></g>
<g id="n-tx-c"><rect class="n2" x="6085.400" y="588.800" width="130.200" height="24"/><text class="l2" x="6094.800" y="600.800"><tspan class="c">注解配置</tspan>aop<tspan class="c">事务</tspan></text></g>
<g id="n-tx-c1"><rect class="n2" x="6159.600" y="634.300" width="107.100" height="24"/><text class="l2" x="6169" y="646.300"><tspan class="c">开启注解事务</tspan></text></g>
<g id="img-tx-c1" class="code" font-size="10"><rect class="im" x="6222.700" y="680.300" width="417.300" height="32.400"/><rect class="gr" x="6230.900" y="682" width="400.400" height="29.300"/><rect class="hl" x="6230.900" y="683.400" width="400.400" height="12.600"/>
<text x="6230.900" y="690.200"><tspan class="m">&lt;!-- 开启注解事务 --&gt;</tspan></text>
<text x="6230.900" y="703.300"><tspan class="t">&lt;tx:annotation-driven </tspan><tspan class="a">transaction-manager=</tspan><tspan class="v">"transactionManager" </tspan><tspan class="t">/&gt;</tspan></text></g>
<g id="n-tx-c2"><rect class="n2" x="6159.600" y="716.400" width="150.200" height="24"/><text class="l2" x="6169" y="728.400">Service<tspan class="c">类中使用注解</tspan></text></g>
<g id="img-tx-c2" class="code" font-size="6.690"><rect class="im" x="6243.300" y="762.400" width="417.200" height="27.200"/><rect class="gr" x="6251.400" y="764" width="401" height="24.200"/>
<text x="6255.700" y="771.800"><tspan style="fill:#777">@Transactional</tspan>(isolation=Isolation.<tspan class="v" style="font-weight:bold">REPEATABLE_READ</tspan>,propagation=Propagation.<tspan class="v" style="font-weight:bold">REQUIRED</tspan>,readOnly=<tspan class="k">true</tspan>)</text>
<text x="6255.700" y="780.700"><tspan class="k">public class </tspan>UserServiceImpl <tspan class="k">implements </tspan>UserService{</text></g>
<g id="img-tx-c3" class="code" font-size="6.690"><rect class="im" x="6243.300" y="793.800" width="417.200" height="48.600"/><rect class="gr" x="6251.400" y="795.400" width="401" height="45.600"/><rect class="hl" x="6251.400" y="803.200" width="401" height="7.800"/>
<text x="6260.500" y="798.500" style="fill:#777">@Override</text>
<text x="6260.500" y="806.900"><tspan style="fill:#777">@Transactional</tspan>(isolation=Isolation.<tspan class="v" style="font-weight:bold">REPEATABLE_READ</tspan>,propagation=Propagation.<tspan class="v" style="font-weight:bold">REQUIRED</tspan>,readOnly=<tspan class="k">false</tspan>)</text>
<text x="6260.500" y="815.200"><tspan class="k">public void </tspan>saveUser(User u) {</text>
<text x="6276.800" y="823.600">ud.save(u);</text>
<text x="6260.500" y="832">}</text></g>

<g id="n-os"><rect class="n1" x="6673.600" y="115.400" width="199.100" height="40.100"/><text class="l1" x="6773" y="135.400"><tspan class="c">扩大</tspan>session<tspan class="c">作用范围</tspan></text></g>
<g id="n-os-a"><rect class="n2" x="6782.300" y="177.300" width="464.100" height="24.400"/><text class="l2" x="6791.500" y="189.500"><tspan class="c">为了避免使用懒加载时出现</tspan>no-session<tspan class="c">问题</tspan>.<tspan class="c">需要扩大</tspan>session<tspan class="c">的作用范围</tspan></text></g>
<g id="n-os-b"><rect class="n2" x="6782.300" y="205.300" width="78.100" height="24.400"/><text class="l2" x="6791.500" y="217.500"><tspan class="c">配置</tspan> filter</text></g>
<g id="img-os-1" class="code" font-size="6.780"><rect class="im" x="6830.400" y="251.300" width="417" height="67.400"/><rect class="gr" x="6838.800" y="252.700" width="400.200" height="64.600"/>
<text x="6841.300" y="259"><tspan class="m">&lt;!-- 扩大session作用范围</tspan></text>
<text x="6850" y="268"><tspan class="m">注意: 任何filter一定要在struts的filter之前调用</tspan></text>
<text x="6846" y="277"><tspan class="m">--&gt;</tspan></text>
<text x="6846" y="285.700"><tspan class="t">&lt;filter&gt;</tspan></text>
<text x="6850" y="294.700"><tspan class="t">&lt;filter-name&gt;</tspan>openSessionInView<tspan class="t">&lt;/filter-name&gt;</tspan></text>
<text x="6850" y="303.700"><tspan class="t">&lt;filter-class&gt;</tspan>org.springframework.orm.hibernate5.support.OpenSessionInViewFilter<tspan class="t">&lt;/filter-class&gt;</tspan></text>
<text x="6841.300" y="312.300"><tspan class="t">&lt;/filter&gt;</tspan></text></g>
<g id="img-os-2" class="code" font-size="14"><rect class="im" x="6830.400" y="322.300" width="417" height="78.400"/><rect class="gr" x="6838.800" y="324" width="400.200" height="75.300"/>
<text x="6844.700" y="332.300"><tspan class="t">&lt;filter-mapping&gt;</tspan></text>
<text x="6861.400" y="350.300"><tspan class="t">&lt;filter-name&gt;</tspan>openSessionInView<tspan class="t">&lt;/filter-name&gt;</tspan></text>
<text x="6861.400" y="369"><tspan class="t">&lt;url-pattern&gt;</tspan>/*<tspan class="t">&lt;/url-pattern&gt;</tspan></text>
<text x="6844.700" y="387.700"><tspan class="t">&lt;/filter-mapping&gt;</tspan></text></g>

<g id="n-ex"><rect class="n1" x="7260.600" y="115.400" width="143.600" height="40.100"/><text class="l1" x="7332.400" y="135.400"><tspan class="c">练习</tspan>:<tspan class="c">用户登录</tspan></text></g>
</g>
</svg>
